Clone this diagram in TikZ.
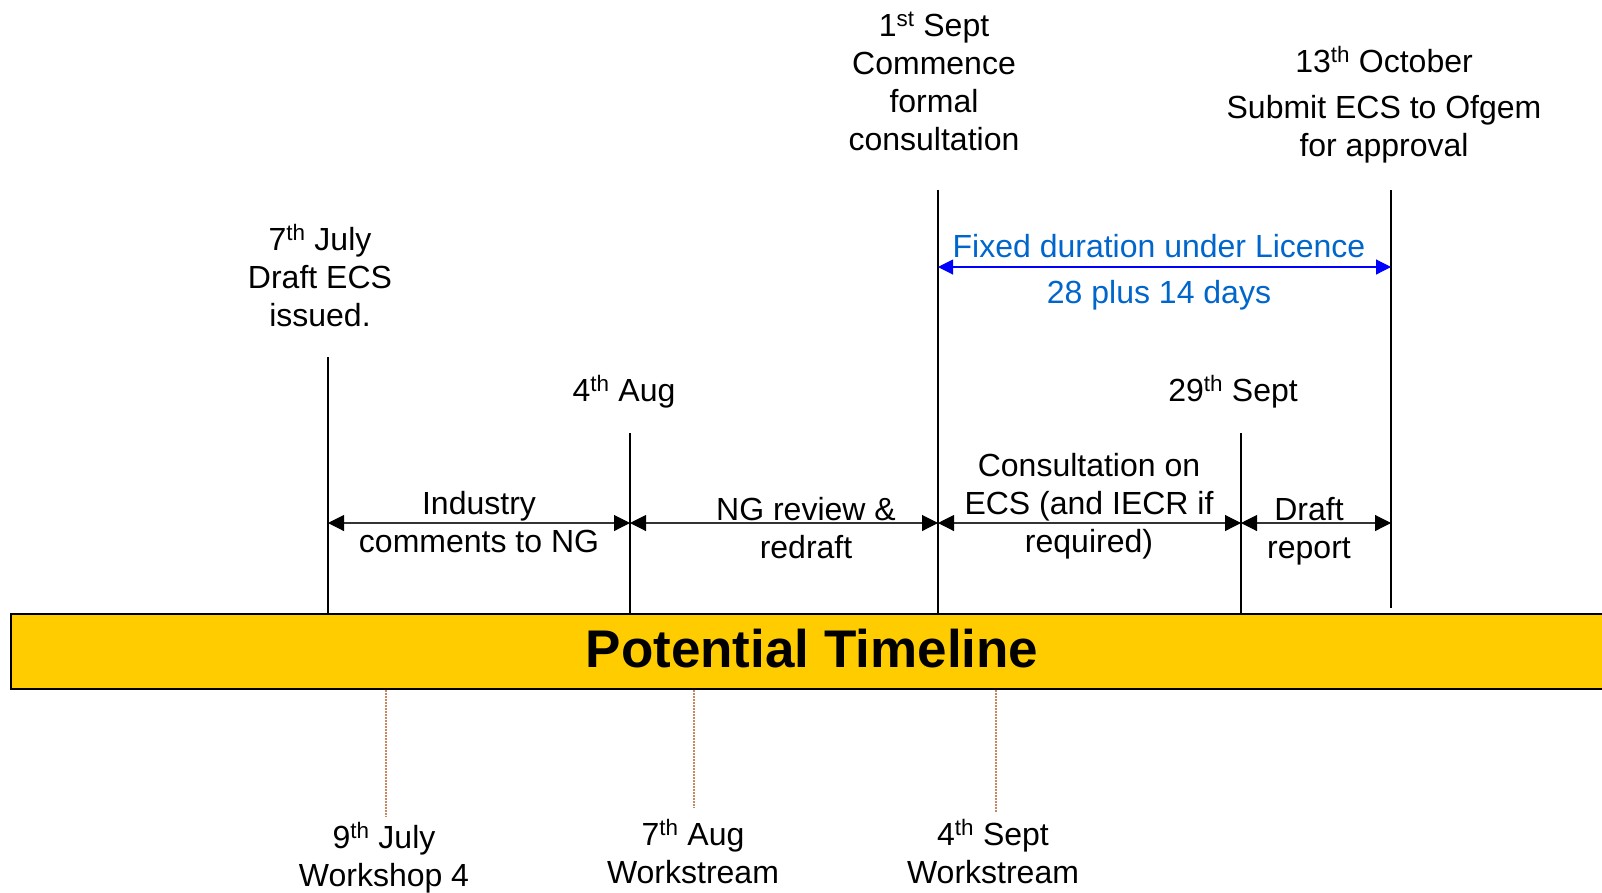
\documentclass[tikz,border=0pt]{standalone}
\usepackage{fontspec}
\setmainfont{Liberation Sans}
\usetikzlibrary{arrows.meta}
\definecolor{banner}{RGB}{255,204,0}
\definecolor{bluetext}{RGB}{0,102,204}
\definecolor{dotcol}{RGB}{205,135,95}
\begin{document}
\begin{tikzpicture}[x=1pt,y=-1pt,
  vline/.style={draw=black,line width=1.8pt},
  durarrow/.style={draw=black!80,line width=1.1pt,{Triangle[length=16pt,width=16pt,color=black]}-{Triangle[length=16pt,width=16pt,color=black]}},
  bluearrow/.style={draw=blue,line width=1.1pt,{Triangle[length=15pt,width=15pt]}-{Triangle[length=15pt,width=15pt]},color=blue},
  lbl/.style={font=\fontsize{32}{38}\selectfont,align=center,inner sep=0pt,anchor=base},
  bluelbl/.style={lbl,text=bluetext},
  dotline/.style={draw=dotcol,line width=1.5pt,dash pattern=on 1.5pt off 1.5pt},
  bannerbox/.style={draw=black,line width=2.4pt,fill=banner}
]
\useasboundingbox (0,0) rectangle (1602,892);
% banner
\path[bannerbox] (11,614) rectangle (1640,689);
\node[font=\fontsize{53}{60}\selectfont\bfseries,inner sep=0pt,anchor=base] (title) at (812,667) {Potential Timeline};

% vertical lines coordinates
\coordinate (a1) at (328,357); \coordinate (a0) at (328,614);
\coordinate (b1) at (630,433); \coordinate (b0) at (630,614);
\coordinate (c1) at (938,190); \coordinate (c0) at (938,614);
\coordinate (d1) at (1241,433); \coordinate (d0) at (1241,614);
\coordinate (e1) at (1391,190); \coordinate (e0) at (1391,608);
\draw[vline] (a1) -- (a0);
\draw[vline] (b1) -- (b0);
\draw[vline] (c1) -- (c0);
\draw[vline] (d1) -- (d0);
\draw[vline] (e1) -- (e0);

% duration arrows
\coordinate (pa) at (328,523);
\coordinate (pb) at (630,523);
\coordinate (pc) at (938,523);
\coordinate (pd) at (1241,523);
\coordinate (pe) at (1391,523);
\draw[durarrow] (pa) -- (pb);
\draw[durarrow] (pb) -- (pc);
\draw[durarrow] (pc) -- (pd);
\draw[durarrow] (pd) -- (pe);

% blue arrow
\coordinate (qc) at (938,267);
\coordinate (qe) at (1391,267);
\draw[bluearrow] (qc) -- (qe);
\node[bluelbl] (fixed) at (1159,303) {Fixed duration under Licence\\[8pt]28 plus 14 days};

% top labels (base anchor = baseline of last line)
\node[lbl] (sept1) at (934,150) {1\textsuperscript{st} Sept\\Commence\\formal\\consultation};
\node[lbl] (oct13) at (1384,156) {13\textsuperscript{th} October\\[8pt]Submit ECS to Ofgem\\for approval};
\node[lbl] (july7) at (320,326) {7\textsuperscript{th} July\\Draft ECS\\issued.};
\node[lbl] (aug4) at (624,401) {4\textsuperscript{th} Aug};
\node[lbl] (sept29) at (1233,401) {29\textsuperscript{th} Sept};

% duration labels
\node[lbl] (ind) at (479,552) {Industry\\comments to NG};
\node[lbl] (ngr) at (806,558) {NG review \&\\redraft};
\node[lbl] (cons) at (1089,552) {Consultation on\\ECS (and IECR if\\required)};
\node[lbl] (drep) at (1309,558) {Draft\\report};

% bottom labels
\node[lbl] (july9) at (384,886) {9\textsuperscript{th} July\\Workshop 4};
\node[lbl] (aug7) at (693,883) {7\textsuperscript{th} Aug\\Workstream};
\node[lbl] (sept4) at (993,883) {4\textsuperscript{th} Sept\\Workstream};

% dotted connectors
\coordinate (w1) at (386,690); \coordinate (w1e) at (386,817);
\coordinate (w2) at (694,690); \coordinate (w2e) at (694,808);
\coordinate (w3) at (996,690); \coordinate (w3e) at (996,813);
\draw[dotline] (w1) -- (w1e);
\draw[dotline] (w2) -- (w2e);
\draw[dotline] (w3) -- (w3e);
\end{tikzpicture}
\end{document}
